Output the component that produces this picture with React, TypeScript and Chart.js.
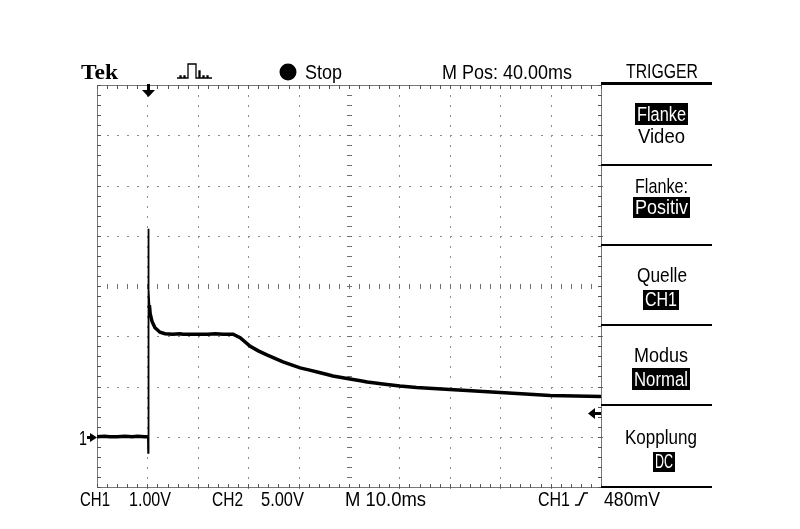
import React, { useEffect, useRef } from "react";
import { Chart, registerables } from "chart.js";

Chart.register(...registerables);

// ---- Data (CH1 trace, time in ms from left screen edge, volts above ground) ----
const timeMs = [
  0, 1.5, 2.5, 4, 5.5, 7, 8, 9.5,
  10.1, 10.15, 10.2, 10.25, 10.4, 10.55, 10.9, 11.5, 12.5, 13.5,
  15, 16.5, 17, 18.5, 20, 21.5, 22, 23.5, 25, 26, 27,
  28.4, 30.4, 32, 33.7, 35.3, 36.9, 38.6, 40.3, 42, 43.7,
  45.3, 46.8, 48.5, 50.2, 52, 53.6, 55.2, 56.7, 58.4, 60.1,
  63.4, 66.7, 70, 73.4, 76.7, 80, 85, 89.9, 95, 100,
];
const ch1Volts = [
  0, 0.01, 0, 0, 0.01, 0, 0.01, 0,
  0, -0.32, 4.14, 2.93, 2.62, 2.45, 2.3, 2.17, 2.08, 2.05,
  2.04, 2.05, 2.04, 2.04, 2.04, 2.04, 2.04, 2.05, 2.04, 2.04, 2.04,
  1.97, 1.8, 1.71, 1.63, 1.56, 1.49, 1.43, 1.37, 1.33, 1.29,
  1.25, 1.21, 1.18, 1.15, 1.12, 1.09, 1.07, 1.05, 1.03, 1.01,
  0.98, 0.96, 0.94, 0.92, 0.9, 0.88, 0.85, 0.82, 0.81, 0.8,
];

// screen grid: 10 divisions x 10 ms, 8 divisions x 1 V (ground one division above bottom)
const timeRange = [0, 100];
const voltRange = [-1, 7];
const timeDivisions = [0, 10, 20, 30, 40, 50, 60, 70, 80, 90, 100];
const voltDivisions = [-1, 0, 1, 2, 3, 4, 5, 6, 7];
const triggerTimeMs = 10.2;
const triggerLevelV = 0.48;
const groundLevelV = 0;

// ---- Texts ----
const headerBrand = "Tek";
const headerStatus = "Stop";
const headerPosition = "M Pos: 40.00ms";
const menuTitle = "TRIGGER";
const menuLabels = ["Flanke", "Video", "Flanke:", "Positiv", "Quelle", "CH1", "Modus", "Normal", "Kopplung", "DC"];
const menuHighlighted = [true, false, false, true, false, true, false, true, false, true];
const footerLabels = ["CH1", "1.00V", "CH2", "5.00V", "M 10.0ms", "CH1", "480mV"];
const groundLabel = "1";

const SANS = '"Liberation Sans", Arial, sans-serif';

function fitText(
  ctx: CanvasRenderingContext2D,
  text: string,
  x0: number,
  x1: number,
  baseline: number,
  size: number,
  color = "#000",
  family = SANS,
  weight = "normal"
) {
  ctx.save();
  ctx.font = `${weight} ${size}px ${family}`;
  const w = ctx.measureText(text).width;
  const sx = (x1 - x0) / w;
  ctx.translate(x0, baseline);
  ctx.scale(sx, 1);
  ctx.textAlign = "left";
  ctx.textBaseline = "alphabetic";
  ctx.fillStyle = color;
  ctx.fillText(text, 0, 0);
  ctx.restore();
}

const gridPlugin = {
  id: "tekGrid",
  beforeDatasetsDraw(chart: any) {
    const { ctx, chartArea: a, scales } = chart;
    const x = scales.x;
    const y = scales.y;
    ctx.save();
    const step = (v0: number, v1: number, s: number) => {
      const out: number[] = [];
      for (let v = v0; v <= v1 + 1e-6; v += s) out.push(+v.toFixed(3));
      return out;
    };
    const minorT = step(timeRange[0], timeRange[1], 2);
    const minorV = step(voltRange[0], voltRange[1], 0.2);
    const centerT = (timeRange[0] + timeRange[1]) / 2;
    const centerV = (voltRange[0] + voltRange[1]) / 2;

    // dotted division lines
    ctx.fillStyle = "#8c8c8c";
    timeDivisions.slice(1, -1).forEach((t) => {
      if (t === centerT) return;
      const px = Math.round(x.getPixelForValue(t));
      minorV.forEach((v) => ctx.fillRect(px, Math.round(y.getPixelForValue(v)), 1, 2));
    });
    voltDivisions.slice(1, -1).forEach((v) => {
      if (v === centerV) return;
      const py = Math.round(y.getPixelForValue(v));
      minorT.forEach((t) => ctx.fillRect(Math.round(x.getPixelForValue(t)), py, 2, 1));
    });

    // center cross with ticks
    ctx.fillStyle = "#6e6e6e";
    const cx = Math.round(x.getPixelForValue(centerT));
    const cy = Math.round(y.getPixelForValue(centerV));
    minorV.forEach((v) => ctx.fillRect(cx - 2, Math.round(y.getPixelForValue(v)), 5, 1));
    minorT.forEach((t) => ctx.fillRect(Math.round(x.getPixelForValue(t)), cy - 2, 1, 5));

    // border with inward ticks
    ctx.strokeStyle = "#777";
    ctx.lineWidth = 1;
    ctx.strokeRect(Math.round(a.left) + 0.5, Math.round(a.top) + 0.5, Math.round(a.right - a.left), Math.round(a.bottom - a.top));
    ctx.fillStyle = "#555";
    minorT.forEach((t) => {
      const px = Math.round(x.getPixelForValue(t));
      ctx.fillRect(px, Math.round(a.top), 1, 4);
      ctx.fillRect(px, Math.round(a.bottom) - 3, 1, 4);
    });
    minorV.forEach((v) => {
      const py = Math.round(y.getPixelForValue(v));
      ctx.fillRect(Math.round(a.left), py, 4, 1);
      ctx.fillRect(Math.round(a.right) - 3, py, 4, 1);
    });
    ctx.restore();
  },
};

const overlayPlugin = {
  id: "tekOverlay",
  afterDraw(chart: any) {
    const { ctx, chartArea: a, scales } = chart;
    const x = scales.x;
    const y = scales.y;
    ctx.save();

    // ---- header ----
    fitText(ctx, headerBrand, 81, 118, 79, 21, "#000", '"Liberation Serif", "Times New Roman", serif', "bold");
    // acquisition icon
    ctx.strokeStyle = "#000";
    ctx.lineWidth = 1.3;
    ctx.beginPath();
    const icon = [
      [177, 78], [180, 78], [180, 76], [181, 76], [181, 78], [184, 78], [184, 76], [185, 76], [185, 78],
      [188, 78], [188, 64], [196, 64], [196, 78], [199, 78], [199, 71], [200, 71], [200, 78],
      [203, 78], [203, 76], [204, 76], [204, 78], [207, 78], [207, 76], [208, 76], [208, 78], [212, 78],
    ];
    icon.forEach(([px, py], i) => (i ? ctx.lineTo(px, py) : ctx.moveTo(px, py)));
    ctx.stroke();
    ctx.fillStyle = "#000";
    ctx.beginPath();
    ctx.arc(288, 72, 8.5, 0, Math.PI * 2);
    ctx.fill();
    fitText(ctx, headerStatus, 305, 342, 79, 20);
    fitText(ctx, headerPosition, 442, 572, 79, 20);
    fitText(ctx, menuTitle, 626, 698, 78, 20);

    // ---- trigger position arrow (top) ----
    const tx = Math.round(x.getPixelForValue(triggerTimeMs));
    ctx.fillStyle = "#000";
    ctx.fillRect(tx - 1, a.top - 1, 3, 7);
    ctx.beginPath();
    ctx.moveTo(tx - 6, a.top + 5);
    ctx.lineTo(tx + 7, a.top + 5);
    ctx.lineTo(tx + 0.5, a.top + 12);
    ctx.closePath();
    ctx.fill();

    // ---- ground marker (left) ----
    const gy = Math.round(y.getPixelForValue(groundLevelV));
    fitText(ctx, groundLabel, 79, 87, gy + 8, 20);
    ctx.fillRect(87, gy - 1, 5, 3);
    ctx.beginPath();
    ctx.moveTo(90, gy - 4);
    ctx.lineTo(97, gy + 0.5);
    ctx.lineTo(90, gy + 5);
    ctx.closePath();
    ctx.fill();

    // ---- trigger level marker (right) ----
    const ly = Math.round(y.getPixelForValue(triggerLevelV));
    const rx = Math.round(a.right);
    ctx.fillRect(rx - 7, ly - 1, 7, 3);
    ctx.beginPath();
    ctx.moveTo(rx - 13, ly + 0.5);
    ctx.lineTo(rx - 6, ly - 5);
    ctx.lineTo(rx - 6, ly + 6);
    ctx.closePath();
    ctx.fill();

    // ---- side menu ----
    const panelL = rx;
    const panelR = 712;
    ctx.fillStyle = "#000";
    [83, 165, 245, 325, 405, 487].forEach((py, i) => {
      ctx.fillRect(panelL, py - 1, panelR - panelL, i === 0 ? 3 : 2);
    });
    const menuBoxes: [number, number, number, number][] = [
      [635, 688, 103, 125],
      [638, 685, 128, 143],
      [635, 688, 178, 193],
      [633, 690, 197, 218],
      [637, 687, 267, 282],
      [643, 679, 290, 310],
      [634, 688, 347, 362],
      [632, 690, 368, 390],
      [625, 697, 429, 444],
      [653, 675, 452, 472],
    ];
    menuLabels.forEach((label, i) => {
      const [x0, x1, y0, y1] = menuBoxes[i];
      if (menuHighlighted[i]) {
        ctx.fillStyle = "#000";
        ctx.fillRect(x0, y0, x1 - x0, y1 - y0);
        fitText(ctx, label, x0 + 2, x1 - 2, y1 - 4, 20, "#fff");
      } else {
        fitText(ctx, label, x0, x1, y1, 21);
      }
    });

    // ---- footer ----
    const footerPos: [number, number][] = [
      [80, 110], [129, 171], [212, 243], [261, 304], [345, 426], [538, 570], [604, 660],
    ];
    footerLabels.forEach((label, i) => {
      const [x0, x1] = footerPos[i];
      fitText(ctx, label, x0, x1, 506, 21);
    });
    // trigger slope symbol
    ctx.strokeStyle = "#000";
    ctx.lineWidth = 1.6;
    ctx.beginPath();
    ctx.moveTo(575, 505);
    ctx.lineTo(579, 505);
    ctx.lineTo(584, 493);
    ctx.lineTo(588, 493);
    ctx.stroke();

    ctx.restore();
  },
};

export default function App() {
  const canvasRef = useRef<HTMLCanvasElement | null>(null);

  useEffect(() => {
    const canvas = canvasRef.current;
    if (!canvas) return;
    const thin = (v: number) => v > 2.7 || v < -0.1;
    const chart = new Chart(canvas, {
      type: "line",
      data: {
        datasets: [
          {
            label: "CH1",
            data: timeMs.map((t, i) => ({ x: t, y: ch1Volts[i] })),
            borderColor: "#000",
            borderWidth: 3.5,
            pointRadius: 0,
            tension: 0,
            fill: false,
            segment: {
              borderWidth: (c: any) => (thin(c.p0.parsed.y) || thin(c.p1.parsed.y) ? 1.8 : 3.5),
            },
          } as any,
        ],
      },
      options: {
        responsive: false,
        animation: false,
        devicePixelRatio: 1,
        layout: { padding: { left: 97, top: 85, right: 199, bottom: 42 } },
        plugins: { legend: { display: false }, tooltip: { enabled: false } },
        scales: {
          x: { type: "linear", min: timeRange[0], max: timeRange[1], display: false },
          y: { type: "linear", min: voltRange[0], max: voltRange[1], display: false },
        },
      },
      plugins: [gridPlugin, overlayPlugin],
    });
    return () => chart.destroy();
  }, []);

  return (
    <div style={{ position: "absolute", left: 0, top: 0, width: 800, height: 529, background: "#fff" }}>
      <canvas ref={canvasRef} width={800} height={529} style={{ display: "block", width: 800, height: 529 }} />
    </div>
  );
}
